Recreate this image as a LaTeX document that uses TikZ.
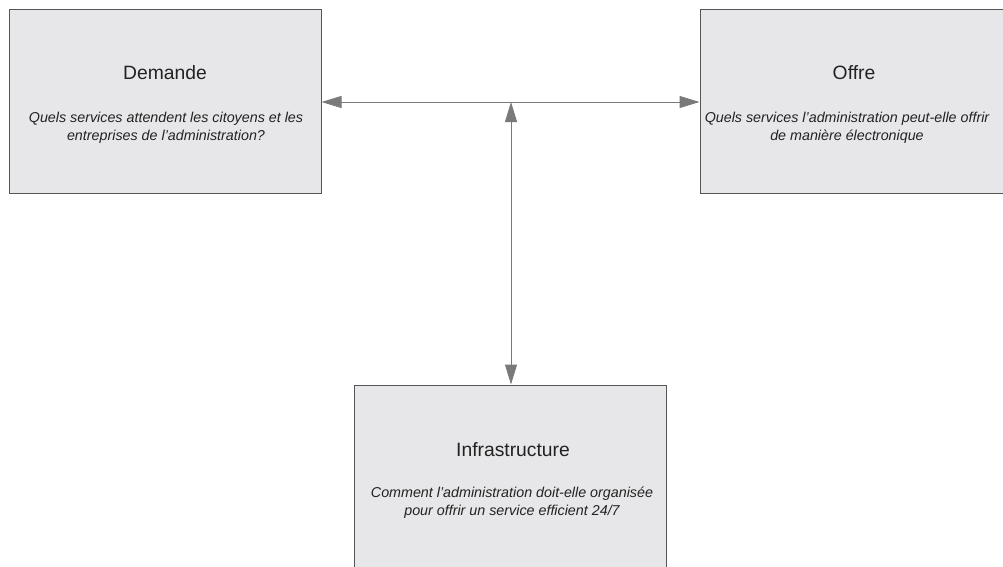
\documentclass[tikz,border=0pt]{standalone}
\usepackage{fontspec}
\setmainfont{Liberation Sans}
\usetikzlibrary{arrows.meta}
\definecolor{boxfill}{HTML}{E7E7E9}
\definecolor{boxline}{HTML}{555555}
\definecolor{linkgrey}{HTML}{7A7A7A}
\definecolor{textgrey}{HTML}{222222}
\tikzset{
  panel/.style={draw=boxline, line width=1pt, fill=boxfill, minimum width=312pt, minimum height=184pt, inner sep=0pt},
  heading/.style={font=\fontsize{19.3}{22}\selectfont, text=textgrey, inner sep=0pt},
  question/.style={font=\fontsize{14.3}{18}\selectfont\itshape, text=textgrey, align=center, inner sep=0pt},
  link/.style={draw=linkgrey, line width=1pt, {Triangle[length=20pt,width=12pt]}-{Triangle[length=20pt,width=12pt]}, fill=linkgrey}
}
\begin{document}
\begin{tikzpicture}[x=1pt,y=-1pt]
\useasboundingbox (0,0) rectangle (1003,566);
\begin{scope}
\clip (0,0) rectangle (1003,566);
% three panels
\node[panel] (demande) at (165,101) {};
\node[panel] (offre) at (856,101) {};
\node[panel] (infra) at (510.5,477) {};
% headings and questions
\node[heading] (tdem) at (165,73) {Demande};
\node[question] (qdem) at (166,128) {Quels services attendent les citoyens et les\\entreprises de l’administration?};
\node[heading] (toff) at (854,73) {Offre};
\node[question] (qoff) at (847,128) {Quels services l’administration peut-elle offrir\\de manière électronique};
\node[heading] (tinf) at (513,450) {Infrastructure};
\node[question] (qinf) at (512,503) {Comment l’administration doit-elle organisée\\pour offrir un service efficient 24/7};
% connectors
\coordinate (hub) at (511,102);
\draw[link] (demande.east |- hub) -- (offre.west |- hub);
\draw[link] (hub) -- (infra.north -| hub);
\end{scope}
\end{tikzpicture}
\end{document}
